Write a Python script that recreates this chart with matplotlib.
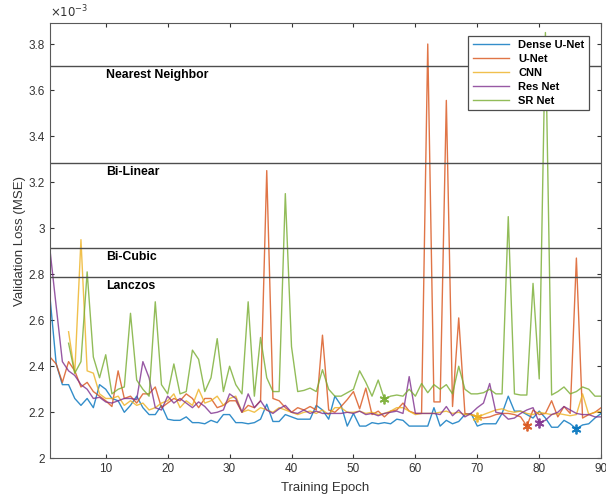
import numpy as np
import matplotlib
matplotlib.use("Agg")
import matplotlib.pyplot as plt
from matplotlib.ticker import FormatStrFormatter

plt.rcParams['font.family'] = ['Liberation Sans', 'DejaVu Sans']

nan = np.nan
epochs = np.arange(1, 91)

# validation loss, units of 1e-3
dense_unet = [2.70, 2.41, 2.32, 2.32, 2.26, 2.23, 2.26, 2.22, 2.32, 2.30,
              2.26, 2.25, 2.20, 2.23, 2.27, 2.22, 2.19, 2.19, 2.23, 2.17,
              2.165, 2.165, 2.18, 2.155, 2.155, 2.15, 2.165, 2.155, 2.19, 2.19,
              2.155, 2.155, 2.15, 2.155, 2.17, 2.235, 2.16, 2.16, 2.19, 2.18,
              2.17, 2.17, 2.17, 2.23, 2.21, 2.17, 2.27, 2.23, 2.14, 2.195,
              2.14, 2.14, 2.155, 2.15, 2.155, 2.15, 2.17, 2.165, 2.14, 2.14,
              2.14, 2.14, 2.22, 2.14, 2.165, 2.15, 2.16, 2.19, 2.195, 2.14,
              2.15, 2.15, 2.15, 2.195, 2.27, 2.205, 2.205, 2.19, 2.175, 2.205,
              2.175, 2.135, 2.135, 2.165, 2.15, 2.128, 2.145, 2.15, 2.175, 2.195]
unet = [2.44, 2.41, 2.33, 2.42, 2.38, 2.31, 2.33, 2.29, 2.27, 2.25,
        2.225, 2.38, 2.26, 2.27, 2.24, 2.28, 2.28, 2.31, 2.22, 2.24,
        2.26, 2.25, 2.28, 2.26, 2.22, 2.26, 2.26, 2.22, 2.23, 2.25,
        2.25, 2.20, 2.23, 2.22, 2.25, 3.25, 2.26, 2.25, 2.22, 2.20,
        2.22, 2.21, 2.225, 2.21, 2.535, 2.21, 2.20, 2.225, 2.255, 2.29,
        2.215, 2.305, 2.19, 2.205, 2.18, 2.205, 2.21, 2.24, 2.205, 2.195,
        2.195, 3.80, 2.245, 2.245, 3.555, 2.225, 2.61, 2.195, 2.19, 2.18,
        2.175, 2.18, 2.19, 2.195, 2.195, 2.19, 2.18, 2.14, 2.21, 2.19,
        2.195, 2.25, 2.18, 2.225, 2.195, 2.87, 2.175, 2.19, 2.20, 2.22]
cnn = [nan, nan, nan, 2.55, 2.37, 2.95, 2.38, 2.37, 2.28, 2.26,
       2.26, 2.27, 2.23, 2.25, 2.23, 2.24, 2.21, 2.22, 2.24, 2.25,
       2.28, 2.22, 2.25, 2.23, 2.30, 2.24, 2.25, 2.27, 2.23, 2.26,
       2.27, 2.20, 2.21, 2.20, 2.22, 2.21, 2.20, 2.22, 2.21, 2.20,
       2.19, 2.20, 2.205, 2.195, 2.21, 2.19, 2.22, 2.22, 2.20, 2.20,
       2.205, 2.195, 2.20, 2.19, 2.195, 2.205, 2.22, 2.22, 2.205, 2.19,
       2.195, 2.195, 2.195, 2.20, 2.205, 2.195, 2.20, 2.19, 2.19, 2.178,
       2.19, 2.20, 2.21, 2.215, 2.205, 2.20, 2.205, 2.195, 2.19, 2.20,
       2.195, 2.19, 2.195, 2.19, 2.185, 2.19, 2.28, 2.19, 2.20, 2.205]
resnet = [2.905, 2.66, 2.42, 2.38, 2.36, 2.32, 2.30, 2.26, 2.265, 2.245,
          2.24, 2.25, 2.26, 2.26, 2.255, 2.42, 2.35, 2.22, 2.21, 2.27,
          2.24, 2.26, 2.24, 2.22, 2.245, 2.225, 2.195, 2.20, 2.21, 2.28,
          2.26, 2.20, 2.28, 2.22, 2.25, 2.21, 2.195, 2.215, 2.23, 2.20,
          2.195, 2.21, 2.195, 2.205, 2.195, 2.195, 2.195, 2.195, 2.20, 2.195,
          2.205, 2.19, 2.195, 2.185, 2.195, 2.20, 2.205, 2.195, 2.355, 2.195,
          2.195, 2.195, 2.195, 2.19, 2.225, 2.185, 2.21, 2.18, 2.195, 2.22,
          2.24, 2.325, 2.20, 2.195, 2.17, 2.175, 2.195, 2.21, 2.22, 2.155,
          2.165, 2.19, 2.20, 2.225, 2.21, 2.195, 2.19, 2.19, 2.18, 2.18]
srnet = [nan, nan, nan, 2.50, 2.37, 2.42, 2.81, 2.44, 2.35, 2.45,
         2.28, 2.30, 2.31, 2.63, 2.34, 2.30, 2.27, 2.68, 2.32, 2.28,
         2.41, 2.28, 2.29, 2.47, 2.43, 2.29, 2.35, 2.52, 2.29, 2.40,
         2.32, 2.28, 2.68, 2.27, 2.525, 2.35, 2.29, 2.29, 3.15, 2.485,
         2.29, 2.295, 2.305, 2.29, 2.385, 2.30, 2.27, 2.27, 2.285, 2.30,
         2.38, 2.33, 2.27, 2.34, 2.257, 2.27, 2.275, 2.27, 2.30, 2.27,
         2.325, 2.285, 2.32, 2.30, 2.32, 2.28, 2.40, 2.30, 2.28, 2.28,
         2.285, 2.30, 2.28, 2.28, 3.05, 2.28, 2.275, 2.275, 2.76, 2.345,
         3.85, 2.275, 2.29, 2.31, 2.28, 2.29, 2.31, 2.30, 2.27, 2.27]

series = [("Dense U-Net", dense_unet, "#0072BD"),
          ("U-Net", unet, "#D95319"),
          ("CNN", cnn, "#EDB120"),
          ("Res Net", resnet, "#7E2F8E"),
          ("SR Net", srnet, "#77AC30")]

# baseline interpolation methods
baselines = ["Nearest Neighbor", "Bi-Linear", "Bi-Cubic", "Lanczos"]
baseline_loss = [3.705, 3.284, 2.912, 2.787]

fig = plt.figure(figsize=(6.06, 4.98), dpi=100)
ax = fig.add_axes([0.0825, 0.0797, 0.9095, 0.8735])

for name, vals, col in series:
    ax.plot(epochs, vals, color=col, lw=1.0, alpha=0.8, label=name)

# best epoch markers
for name, vals, col in series:
    v = np.array(vals)
    i = np.nanargmin(v)
    ax.plot(epochs[i], v[i], marker=(6, 2, 0), ms=7, mew=1.3, color=col, alpha=0.9)

for name, val in zip(baselines, baseline_loss):
    ax.axhline(val, color='0.3', lw=1.0)
    ax.text(10, val - 0.038, name, fontsize=8.8, fontweight='bold', va='center', ha='left')

ax.set_xlim(1, 90)
ax.set_ylim(2.0, 3.89)
ax.set_xticks(range(10, 91, 10))
ax.set_yticks(np.arange(2.0, 3.81, 0.2))
ax.yaxis.set_major_formatter(FormatStrFormatter('%g'))
ax.tick_params(direction='in', top=True, right=True, labelsize=8.5, colors='0.2', length=3)
for s in ax.spines.values():
    s.set_color('0.35')
    s.set_linewidth(0.8)

ax.set_xlabel('Training Epoch', fontsize=9.5, color='0.2', labelpad=5)
ax.set_ylabel('Validation Loss (MSE)', fontsize=9.5, color='0.2', labelpad=2)
ax.text(0.0, 1.006, r'$\times10^{-3}$', transform=ax.transAxes, fontsize=8.5, color='0.2',
        ha='left', va='bottom')

leg = ax.legend(loc='upper right', bbox_to_anchor=(0.978, 0.971), borderaxespad=0,
                fancybox=False, edgecolor='0.3', framealpha=1, handlelength=3.3,
                labelspacing=0.35, prop={'weight': 'bold', 'size': 8})
leg.get_frame().set_linewidth(0.9)

fig.savefig('out.png', dpi=100)
